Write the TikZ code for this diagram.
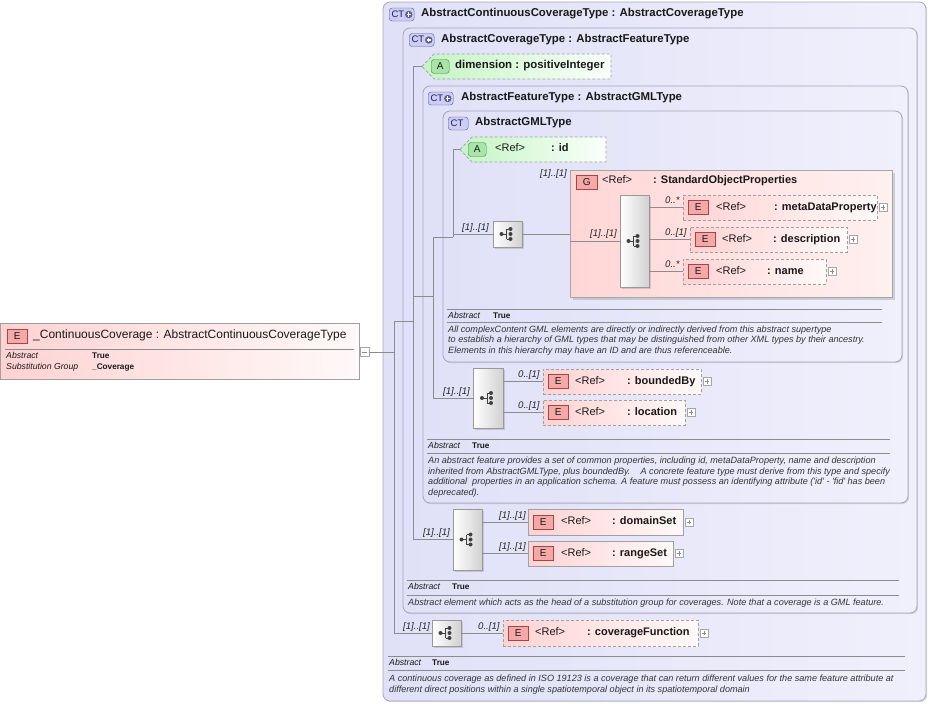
\documentclass[tikz,border=0pt]{standalone}
\usepackage{fontspec}
\setmainfont{Liberation Sans}
\usetikzlibrary{shadows,fit,calc}

\definecolor{ctL}{RGB}{224,224,248}
\definecolor{ctR}{RGB}{240,240,252}
\definecolor{ctB}{RGB}{165,165,185}
\definecolor{elL}{RGB}{255,210,210}
\definecolor{elR}{RGB}{255,249,249}
\definecolor{elB}{RGB}{160,160,160}
\definecolor{atL}{RGB}{196,244,196}
\definecolor{atR}{RGB}{250,255,250}
\definecolor{grL}{RGB}{255,214,214}
\definecolor{grR}{RGB}{255,240,240}
\definecolor{lnC}{RGB}{140,140,140}
\definecolor{txC}{RGB}{25,25,25}
\definecolor{bdE}{RGB}{244,168,168}
\definecolor{bdEB}{RGB}{165,70,70}
\definecolor{bdCT}{RGB}{204,204,245}
\definecolor{bdCTB}{RGB}{90,90,150}
\definecolor{ctT}{RGB}{30,30,90}
\definecolor{ctP}{RGB}{95,95,150}
\definecolor{bdA}{RGB}{168,230,168}
\definecolor{bdAB}{RGB}{70,130,70}

\tikzset{
  tx/.style={inner sep=0pt, anchor=west, text height=0.72em, text depth=0.2em, text=txC},
  ttl/.style={tx, font=\fontsize{11.4}{13}\selectfont\bfseries},
  elt/.style={tx, font=\fontsize{11}{13}\selectfont\bfseries},
  reft/.style={tx, font=\fontsize{11}{13}\selectfont},
  doct/.style={tx, font=\fontsize{9.1}{10}\selectfont\itshape, text=black!80},
  abst/.style={tx, font=\fontsize{8.7}{10}\selectfont\itshape},
  truet/.style={tx, font=\fontsize{8.2}{10}\selectfont\bfseries},
  card/.style={tx, font=\fontsize{9.6}{10}\selectfont\itshape, text=black!85},
  ctbox/.style={draw=ctB, line width=0.8pt, rounded corners=7pt, left color=ctL, right color=ctR,
    drop shadow={shadow xshift=1.2pt, shadow yshift=-1.2pt, opacity=0.25}, inner sep=0pt},
  elbox/.style={draw=elB, line width=0.7pt, left color=elL, right color=elR, inner sep=0pt},
  dashedel/.style={dash pattern=on 3pt off 2pt},
  solidel/.style={},
  attrbox/.style={draw=elB, line width=0.7pt, dash pattern=on 3pt off 2pt, left color=atL, right color=atR},
  grpbox/.style={draw=black!35, line width=0.7pt, left color=grL, right color=grR, inner sep=0pt,
    drop shadow={shadow xshift=2.5pt, shadow yshift=-2.5pt, opacity=0.3}},
  seqbox/.style={draw=black!40, line width=0.6pt, left color=white, right color=black!18, inner sep=0pt,
    drop shadow={shadow xshift=1.5pt, shadow yshift=-1.5pt, opacity=0.3}},
  bE/.style={draw=bdEB, fill=bdE, minimum width=20pt, minimum height=14pt, inner sep=0pt, anchor=west,
    font=\fontsize{10}{12}\selectfont, text=txC},
  bCT/.style={draw=bdCTB, fill=bdCT, minimum height=13pt, rounded corners=3pt, inner sep=0pt, anchor=west},
  bA/.style={draw=bdAB, fill=bdA, minimum width=18pt, minimum height=14pt, rounded corners=3pt, inner sep=0pt,
    anchor=west, font=\fontsize{10}{12}\selectfont, text=txC},
  plusic/.style={draw=black!35, fill=white, minimum size=8pt, inner sep=0pt, anchor=west,
    path picture={\draw[black!45, line width=0.5pt]
      ([xshift=-2.2pt]path picture bounding box.center) -- ([xshift=2.2pt]path picture bounding box.center)
      ([yshift=-2.2pt]path picture bounding box.center) -- ([yshift=2.2pt]path picture bounding box.center);}},
  minusic/.style={draw=black!35, fill=white, minimum size=9pt, inner sep=0pt, anchor=west,
    path picture={\draw[black!45, line width=0.5pt]
      ([xshift=-2.5pt]path picture bounding box.center) -- ([xshift=2.5pt]path picture bounding box.center);}},
  conn/.style={draw=lnC, line width=0.7pt},
  sepl/.style={draw=black!45, line width=0.6pt},
  icn/.style={draw=black!75, line width=0.8pt},
  icd/.style={fill=black!75},
}

\newcommand\CTplus[3]{%
  \node[bCT, minimum width=25pt] (#1) at (#2,#3) {};
  \node[tx, font=\fontsize{9.5}{11}\selectfont, text=ctT] at ({#2+2.3},#3) {CT};
  \fill[ctP] ({#2+19.8},#3) circle[radius=3.7pt];
  \draw[white, line width=1.1pt] ({#2+17.6},#3) -- ({#2+22},#3) ({#2+19.8},{#3-2.2}) -- ({#2+19.8},{#3+2.2});
}
\newcommand\XElem[9]{%
  \node[elbox,#2,fit={(#3,#4)(#5,#6)}] (#1) {};
  \node[bE] at ({#3+5},{(#4+#6)/2}) {E};
  \node[reft] at (#7,{(#4+#6)/2}) {<Ref>};
  \node[elt] at (#8,{(#4+#6)/2}) {: #9};
  \node[plusic] at ({#5+2},{(#4+#6)/2}) {};
}
\newcommand\seqicon[1]{%
  \begin{scope}[shift={(#1.center)}]
    \draw[icn] (-6,0) -- (-1,0) (-1,-5) -- (-1,5) (-1,-5) -- (3,-5) (-1,5) -- (3,5);
    \fill[icd] (-6,0) circle[radius=2pt] (3,-5) circle[radius=2pt] (3,0) circle[radius=2pt] (3,5) circle[radius=2pt];
  \end{scope}}
\newcommand\attr[5]{%
  \path[attrbox] (#2,{(#3+#5)/2}) -- ({#2+12},#3) -- (#4,#3) -- (#4,#5) -- ({#2+12},#5) -- cycle;
  \node[inner sep=0pt, fit={(#2,#3)(#4,#5)}] (#1) {};
}

\begin{document}
\begin{tikzpicture}[x=1pt,y=-1pt]
\useasboundingbox[fill=white] (0,0) rectangle (930,704);

% ---------- root element ----------
\node[elbox, fit={(0.5,323)(359,379)}, drop shadow={shadow xshift=1.2pt, shadow yshift=-1.2pt, opacity=0.2}] (root) {};
\node[bE] (rootb) at (7,336) {E};
\node[tx, font=\fontsize{12}{14}\selectfont] at (33,336) {\_ContinuousCoverage : AbstractContinuousCoverageType};
\draw[sepl] (5,349) -- (354,349);
\node[abst] at (6,356) {Abstract};
\node[truet] at (92,356) {True};
\node[abst] at (6,367) {Substitution Group};
\node[truet] at (92,367) {\_Coverage};
\node[minusic] (mi) at (360,352) {};

% ---------- nested complex types ----------
\node[ctbox, fit={(383,2)(926,701)}] (ct1) {};
\CTplus{b1}{389}{14.5}
\node[ttl] at (421,14) {AbstractContinuousCoverageType : AbstractCoverageType};

\node[ctbox, fit={(403,28)(917,613)}] (ct2) {};
\CTplus{b2}{409}{40}
\node[ttl] at (441,40) {AbstractCoverageType : AbstractFeatureType};

\attr{dim}{422}{54}{611}{79}
\node[bA] at (431,66.5) {A};
\node[ttl] at (455,66) {dimension : positiveInteger};

\node[ctbox, fit={(423,86)(908,503)}] (ct3) {};
\CTplus{b3}{428}{98.5}
\node[ttl] at (461,98) {AbstractFeatureType : AbstractGMLType};

\node[ctbox, fit={(443,111)(902,362)}] (ct4) {};
\node[bCT, minimum width=20pt] (b4) at (448,123.5) {};
\node[tx, font=\fontsize{9.5}{11}\selectfont, text=ctT] at (450.5,123.5) {CT};
\node[ttl] at (475,123) {AbstractGMLType};

\attr{id}{460}{137}{606}{162}
\node[bA] at (468,149.5) {A};
\node[reft] at (495,149) {<Ref>};
\node[elt] at (551,149) {: id};

% group StandardObjectProperties
\node[card] at (540,174) {[1]..[1]};
\node[grpbox, fit={(570,170)(892,297)}] (grp) {};
\node[bE, minimum width=21pt] at (576,182) {G};
\node[reft] at (602,181) {<Ref>};
\node[elt] at (653,181) {: StandardObjectProperties};

\node[seqbox, fit={(493,221)(522,247)}] (seqO) {};
\seqicon{seqO}
\node[card] at (462,228) {[1]..[1]};

\node[seqbox, fit={(620,195)(649,287)}] (seqI) {};
\seqicon{seqI}
\node[card] at (590,234) {[1]..[1]};

\XElem{meta}{dashedel}{683}{195}{877}{220}{716}{774}{metaDataProperty}
\XElem{desc}{dashedel}{690}{227}{847}{252}{722}{773}{description}
\XElem{nam}{dashedel}{683}{259}{826}{284}{716}{767}{name}
\node[card] at (665,201) {0..*};
\node[card] at (665,233) {0..[1]};
\node[card] at (665,265) {0..*};

\draw[sepl] (447,309) -- (882,309);
\node[abst] at (448,315.5) {Abstract};
\node[truet] at (493,315.5) {True};
\draw[sepl] (447,322) -- (882,322);
\node[doct] at (448,329.5) {All complexContent GML elements are directly or indirectly derived from this abstract supertype};
\node[doct] at (448,340) {to establish a hierarchy of GML types that may be distinguished from other XML types by their ancestry.};
\node[doct] at (448,350.5) {Elements in this hierarchy may have an ID and are thus referenceable.};

% boundedBy / location
\node[seqbox, fit={(473,368)(503,428)}] (bbseq) {};
\seqicon{bbseq}
\node[card] at (443,392) {[1]..[1]};
\XElem{bb}{dashedel}{543}{369}{701}{394}{575}{627}{boundedBy}
\XElem{loc}{dashedel}{543}{400}{685}{425}{575}{627}{location}
\node[card] at (518,375) {0..[1]};
\node[card] at (518,406) {0..[1]};

\draw[sepl] (427,439) -- (890,439);
\node[abst] at (428,446) {Abstract};
\node[truet] at (472,446) {True};
\draw[sepl] (427,453) -- (890,453);
\node[doct] at (428,461) {An abstract feature provides a set of common properties, including id, metaDataProperty, name and description};
\node[doct] at (428,471.5) {inherited from AbstractGMLType, plus boundedBy.\ \ \ \ A concrete feature type must derive from this type and specify};
\node[doct] at (428,482) {additional\ \ properties in an application schema. A feature must possess an identifying attribute (\textquotesingle id\textquotesingle\ - \textquotesingle fid\textquotesingle\ has been};
\node[doct] at (428,492.5) {deprecated).};

% domainSet / rangeSet
\node[seqbox, fit={(453,509)(482,570)}] (dsseq) {};
\seqicon{dsseq}
\node[card] at (423,533) {[1]..[1]};
\XElem{ds}{solidel}{528}{509}{683}{535}{561}{612}{domainSet}
\XElem{rs}{solidel}{528}{541}{673}{566}{561}{612}{rangeSet}
\node[card] at (499,516) {[1]..[1]};
\node[card] at (499,547) {[1]..[1]};

\draw[sepl] (407,580) -- (899,580);
\node[abst] at (408,587) {Abstract};
\node[truet] at (452,587) {True};
\draw[sepl] (407,595) -- (899,595);
\node[doct] at (408,603) {Abstract element which acts as the head of a substitution group for coverages. Note that a coverage is a GML feature.};

% coverageFunction
\node[seqbox, fit={(432,620)(461,646)}] (cfseq) {};
\seqicon{cfseq}
\node[card] at (403,627) {[1]..[1]};
\XElem{cf}{dashedel}{503}{620}{698}{646}{535}{587}{coverageFunction}
\node[card] at (478,627) {0..[1]};

\draw[sepl] (388,656) -- (905,656);
\node[abst] at (389,663) {Abstract};
\node[truet] at (432,663) {True};
\draw[sepl] (388,670) -- (905,670);
\node[doct] at (389,679) {A continuous coverage as defined in ISO 19123 is a coverage that can return different values for the same feature attribute at};
\node[doct] at (389,689.5) {different direct positions within a single spatiotemporal object in its spatiotemporal domain};

% ---------- tree connectors ----------
\coordinate (v1) at (394,352);
\coordinate (v2) at (413,321);
\coordinate (v3) at (433,296);
\coordinate (v4) at (453,237);

\draw[conn] (mi.east) -- (v1);
\draw[conn] (v1 |- v2) -- (v1 |- cfseq.west) -- (cfseq.west);
\draw[conn] (v1 |- v2) -- (v2);
\draw[conn] (v2 |- dim.west) -- (dim.west);
\draw[conn] (v2 |- dim.west) -- (v2 |- dsseq.west) -- (dsseq.west);
\draw[conn] (v2 |- v3) -- (v3);
\draw[conn] (v3 |- v4) -- (v3 |- bbseq.west) -- (bbseq.west);
\draw[conn] (v3 |- v4) -- (v4);
\draw[conn] (v4 |- id.west) -- (id.west);
\draw[conn] (v4 |- id.west) -- (v4);
\draw[conn] (v4 |- seqO.west) -- (seqO.west);

\draw[conn] (seqO.east) -- (grp.west |- seqO.east);
\draw[conn] (grp.west |- seqI.west) -- (seqI.west);
\draw[conn] (seqI.east |- meta.west) -- (meta.west);
\draw[conn] (seqI.east |- desc.west) -- (desc.west);
\draw[conn] (seqI.east |- nam.west) -- (nam.west);

\draw[conn] (bbseq.east |- bb.west) -- (bb.west);
\draw[conn] (bbseq.east |- loc.west) -- (loc.west);
\draw[conn] (dsseq.east |- ds.west) -- (ds.west);
\draw[conn] (dsseq.east |- rs.west) -- (rs.west);
\draw[conn] (cfseq.east) -- (cf.west |- cfseq.east);
\end{tikzpicture}
\end{document}
